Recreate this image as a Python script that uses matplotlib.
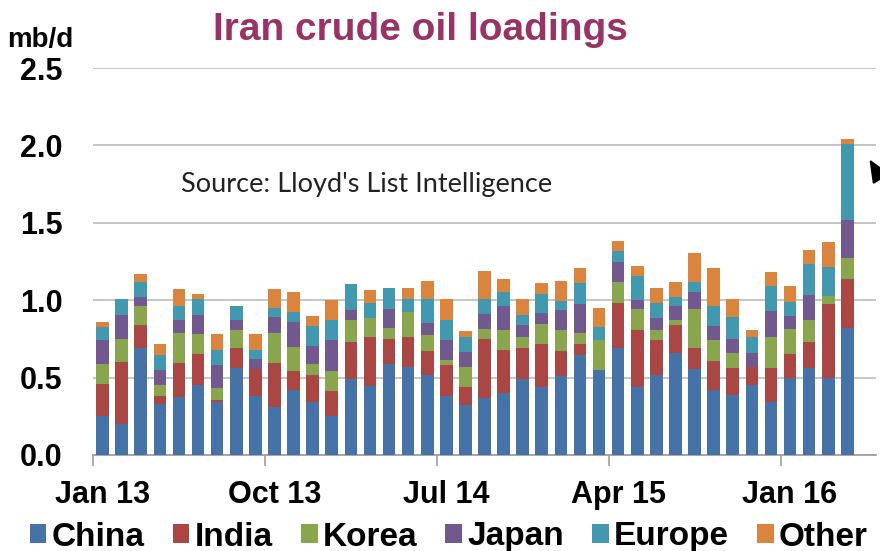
import matplotlib
matplotlib.use("Agg")
import matplotlib.pyplot as plt
import numpy as np

# ---- data (mb/d), monthly Jan 2013 .. Apr 2016 ----
months = ["Jan 13", "Feb 13", "Mar 13", "Apr 13", "May 13", "Jun 13", "Jul 13", "Aug 13", "Sep 13",
          "Oct 13", "Nov 13", "Dec 13", "Jan 14", "Feb 14", "Mar 14", "Apr 14", "May 14", "Jun 14",
          "Jul 14", "Aug 14", "Sep 14", "Oct 14", "Nov 14", "Dec 14", "Jan 15", "Feb 15", "Mar 15",
          "Apr 15", "May 15", "Jun 15", "Jul 15", "Aug 15", "Sep 15", "Oct 15", "Nov 15", "Dec 15",
          "Jan 16", "Feb 16", "Mar 16", "Apr 16"]

china = [0.25, 0.20, 0.69, 0.33, 0.375, 0.45, 0.34, 0.565, 0.38, 0.31,
         0.42, 0.34, 0.25, 0.49, 0.445, 0.59, 0.57, 0.52, 0.38, 0.32,
         0.365, 0.40, 0.49, 0.44, 0.51, 0.645, 0.55, 0.69, 0.44, 0.52,
         0.66, 0.555, 0.42, 0.385, 0.455, 0.34, 0.50, 0.565, 0.50, 0.82]
india = [0.21, 0.40, 0.15, 0.05, 0.22, 0.20, 0.015, 0.125, 0.175, 0.285,
         0.12, 0.18, 0.165, 0.24, 0.315, 0.16, 0.195, 0.15, 0.20, 0.12,
         0.385, 0.28, 0.20, 0.28, 0.165, 0.075, 0.0, 0.29, 0.37, 0.22,
         0.18, 0.135, 0.19, 0.175, 0.115, 0.225, 0.15, 0.165, 0.475, 0.32]
korea = [0.13, 0.15, 0.12, 0.07, 0.19, 0.13, 0.075, 0.12, 0.0, 0.195,
         0.16, 0.065, 0.13, 0.14, 0.125, 0.07, 0.16, 0.105, 0.035, 0.13,
         0.065, 0.13, 0.07, 0.125, 0.135, 0.07, 0.19, 0.14, 0.135, 0.065,
         0.03, 0.255, 0.135, 0.10, 0.0, 0.195, 0.165, 0.14, 0.055, 0.135]
japan = [0.15, 0.155, 0.06, 0.10, 0.085, 0.125, 0.15, 0.06, 0.065, 0.10,
         0.16, 0.12, 0.20, 0.065, 0.0, 0.125, 0.0, 0.08, 0.125, 0.095,
         0.095, 0.15, 0.08, 0.07, 0.125, 0.185, 0.0, 0.13, 0.055, 0.08,
         0.095, 0.11, 0.09, 0.09, 0.09, 0.17, 0.08, 0.165, 0.0, 0.245]
europe = [0.09, 0.105, 0.10, 0.095, 0.09, 0.10, 0.10, 0.09, 0.06, 0.06,
          0.065, 0.13, 0.125, 0.17, 0.095, 0.135, 0.085, 0.15, 0.13, 0.10,
          0.095, 0.09, 0.065, 0.125, 0.06, 0.135, 0.09, 0.065, 0.155, 0.095,
          0.055, 0.06, 0.125, 0.14, 0.10, 0.16, 0.095, 0.20, 0.185, 0.49]
other = [0.03, 0.0, 0.05, 0.07, 0.115, 0.035, 0.10, 0.0, 0.10, 0.12,
         0.13, 0.06, 0.13, 0.0, 0.085, 0.0, 0.07, 0.12, 0.135, 0.035,
         0.185, 0.09, 0.105, 0.07, 0.13, 0.10, 0.12, 0.065, 0.065, 0.10,
         0.10, 0.19, 0.25, 0.115, 0.05, 0.095, 0.10, 0.09, 0.16, 0.03]

series_names = ["China", "India", "Korea", "Japan", "Europe", "Other"]
series_vals = [china, india, korea, japan, europe, other]
colors = ["#4572A7", "#AA4643", "#89A54E", "#71588F", "#4198AF", "#DB843D"]

tick_labels = ["Jan 13", "Oct 13", "Jul 14", "Apr 15", "Jan 16"]
y_ticks = [0.0, 0.5, 1.0, 1.5, 2.0, 2.5]

FONT = ["Liberation Sans", "DejaVu Sans"]
plt.rcParams["font.family"] = FONT

fig = plt.figure(figsize=(8.8, 5.51), dpi=100)
ax = fig.add_axes([93 / 880, 1 - 455 / 551, (876 - 93) / 880, (455 - 68) / 551])

x = np.arange(len(months))
bottom = np.zeros(len(months))
for name, vals, c in zip(series_names, series_vals, colors):
    v = np.array(vals)
    ax.bar(x, v, width=0.66, bottom=bottom, color=c, label=name, zorder=3, linewidth=0)
    bottom += v

ax.set_xlim(-0.5, len(months) + 0.5)
ax.set_ylim(0, 2.5)
ax.set_yticks(y_ticks)
ax.set_yticklabels([f"{t:.1f}" for t in y_ticks], fontsize=22, fontweight="bold")
ax.tick_params(axis="y", length=0, pad=22)
ax.grid(axis="y", color="#c0c0c0", linewidth=1.3, zorder=0)
ax.set_axisbelow(True)

label_idx = [months.index(t) for t in tick_labels]
ax.set_xticks([i - 0.5 for i in label_idx])
ax.set_xticklabels([])
ax.tick_params(axis="x", which="major", length=8, color="#a0a0a0", width=1.2)
ax.set_xticks(label_idx, minor=True)
ax.set_xticklabels(tick_labels, minor=True, fontsize=22, fontweight="bold")
ax.tick_params(axis="x", which="minor", length=0, pad=18)

for s in ["top", "right", "left"]:
    ax.spines[s].set_visible(False)
ax.spines["bottom"].set_color("#a0a0a0")
ax.spines["bottom"].set_linewidth(1.3)

fig.text(40 / 880, 1 - 40 / 551, "mb/d", ha="center", va="center", fontsize=20, fontweight="bold")
fig.text(420 / 880, 1 - 30 / 551, "Iran crude oil loadings", ha="center", va="center",
         fontsize=28, fontweight="bold", color="#993366")
ax.text(0.35, 0.698, "Source: Lloyd's List Intelligence", transform=ax.transAxes,
        ha="center", va="center", fontsize=19.5, family=["Lato", "DejaVu Sans"], color="#222222")

leg = fig.legend(loc="center", bbox_to_anchor=(0.51, 1 - 537 / 551), ncol=6, frameon=False,
                 prop={"size": 24, "weight": "bold"}, handlelength=0.5, handleheight=0.5,
                 handletextpad=0.15, columnspacing=0.85, borderaxespad=0)

fig.add_artist(matplotlib.patches.FancyArrowPatch(
    posA=(900 / 880, 1 - 210 / 551), posB=(868 / 880, 1 - 157 / 551),
    transform=fig.transFigure, arrowstyle="-|>,head_length=14,head_width=6",
    color="black", lw=1.5, mutation_scale=1))

fig.savefig("out.png", dpi=100)
